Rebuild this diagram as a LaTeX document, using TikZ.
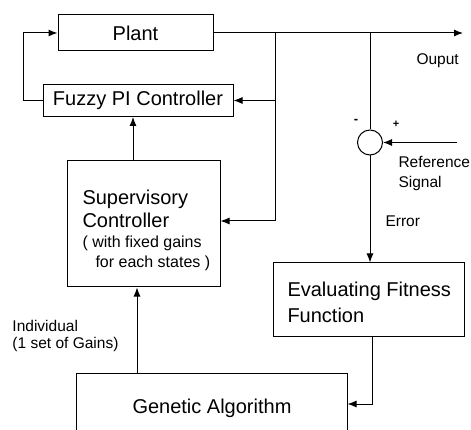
\documentclass[tikz,border=0pt]{standalone}
\usepackage{fontspec}
\setmainfont{Liberation Sans}
\usetikzlibrary{arrows.meta}
\begin{document}
\begin{tikzpicture}[x=1pt,y=-1pt,
  line width=1pt,
  bigtext/.style={font=\fontsize{20}{24}\selectfont},
  smalltext/.style={font=\fontsize{15.5}{19}\selectfont},
  midtext/.style={font=\fontsize{16}{20}\selectfont},
  block/.style={draw, inner sep=0pt, bigtext},
  arr/.style={-{Latex[length=9pt,width=7pt]}},
  lbl/.style={anchor=base west, inner sep=0pt}]
\useasboundingbox (0,0) rectangle (471,430);
\clip (0,0) rectangle (471,430);

% blocks
\node[block, minimum width=155pt, minimum height=36pt] (plant) at (135.5,33) {Plant};
\node[block, minimum width=190pt, minimum height=32pt] (fuzzy) at (138,100.5) {Fuzzy PI Controller};
\node[block, minimum width=153pt, minimum height=126pt] (sup) at (143.5,224) {};
\node[block, minimum width=191pt, minimum height=73pt] (eval) at (368.5,299.5) {};
\node[block, minimum width=271pt, minimum height=87pt] (ga) at (211.5,416.5) {};
\node[draw, circle, inner sep=0pt, minimum size=25pt] (sum) at (370,142.5) {};

% texts inside blocks
\node[lbl, bigtext] at (82,205) {Supervisory};
\node[lbl, bigtext] at (82,228) {Controller};
\node[lbl, midtext] at (82,248) {( with fixed gains};
\node[lbl, midtext] at (95,268) {for each states )};
\node[lbl, bigtext] at (287,297) {Evaluating Fitness};
\node[lbl, bigtext] at (287,323) {Function};
\node[lbl, bigtext] at (132,413) {Genetic Algorithm};

% signal labels
\node[lbl, smalltext] at (416,65) {Ouput};
\node[lbl, smalltext] at (398,168) {Reference};
\node[lbl, smalltext] at (398,188) {Signal};
\node[lbl, smalltext] at (385,227) {Error};
\node[lbl, smalltext] at (12,331) {Individual};
\node[lbl, smalltext] at (12,348) {(1 set of Gains)};
\node[font=\fontsize{13}{13}\selectfont\bfseries] at (356,121) {-};
\node[font=\fontsize{11}{11}\selectfont\bfseries] at (396,124) {+};

% branch points and free ends
\coordinate (j1) at (275,33);
\coordinate (j2) at (370,33);
\coordinate (out) at (463,33);
\coordinate (ref) at (457,142.5);

% connectors
\draw[arr] (plant.east) -- (out);
\draw[arr] (fuzzy.west) -- ++(-19,0) |- (plant.west);
\draw[arr] (j1 |- fuzzy.east) -- (fuzzy.east);
\draw[arr] (j1) |- ([yshift=3pt]sup.east);
\draw[arr] ([xshift=-10.5pt]sup.north) -- ([xshift=-10.5pt]sup.north |- fuzzy.south);
\draw (j2) -- (sum.north);
\draw[arr] (ref) -- (sum.east);
\draw[arr] (sum.south) -- (sum.south |- eval.north);
\draw[arr] ([xshift=3.5pt]eval.south) |- ([yshift=12.5pt]ga.east);
\draw[arr] ([xshift=-74.5pt]ga.north) -- ([xshift=-74.5pt]ga.north |- sup.south);
\end{tikzpicture}
\end{document}
